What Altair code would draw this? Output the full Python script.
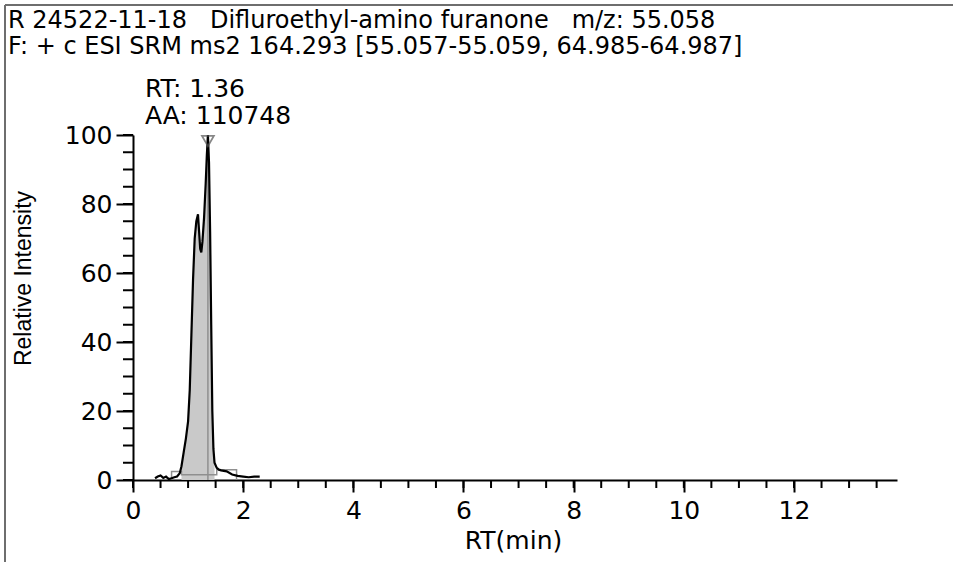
import altair as alt
import pandas as pd

# ---------------- data ----------------
NB = "\u00a0"
header_text = ("R 24522-11-18" + NB * 3 + "Difluroethyl-amino furanone" + NB * 3 + "m/z: 55.058"
               + "\n" + "F: + c ESI SRM ms2 164.293 [55.057-55.059, 64.985-64.987]")
peak_label = "RT: 1.36\nAA: 110748"
apex_rt = [1.36]
apex_int = [100]
apex_base = [0]

rt = [0.40, 0.45, 0.50, 0.55, 0.60, 0.65, 0.70, 0.75, 0.80, 0.85, 0.88, 0.92,
      0.96, 1.00, 1.03, 1.06, 1.09, 1.12, 1.15, 1.18, 1.20, 1.22, 1.24, 1.26,
      1.29, 1.32, 1.34, 1.36, 1.38, 1.40, 1.42, 1.44, 1.46, 1.48, 1.52, 1.56,
      1.60, 1.70, 1.80, 1.90, 2.00, 2.10, 2.20, 2.30]
intensity = [0.5, 1.0, 1.3, 0.6, 1.0, 0.3, 0.5, 0.8, 1.0, 2.0, 4.0, 8.0,
             12.0, 17.0, 26.0, 42.0, 58.0, 70.0, 75.0, 77.0, 72.0, 67.0, 66.0, 69.0,
             76.0, 86.0, 94.0, 100.0, 92.0, 72.0, 45.0, 20.0, 9.0, 5.0, 3.5, 3.0,
             2.8, 2.5, 1.6, 1.2, 1.0, 0.8, 1.0, 1.0]

base_rt = [0.70, 0.70, 0.88, 1.52, 1.88]
base_int = [0.0, 2.5, 1.5, 3.0, 0.0]

x_major = [0, 2, 4, 6, 8, 10, 12]
x_minor = [i * 0.5 for i in range(28)]
y_major = [0, 20, 40, 60, 80, 100]
y_minor = list(range(0, 101, 5))

trace = pd.DataFrame({"rt": rt, "inten": intensity})
baseline = pd.DataFrame({"rt": base_rt, "inten": base_int})
apex = pd.DataFrame({"rt": apex_rt, "inten": apex_int, "base": apex_base,
                     "label": [peak_label]})
header = pd.DataFrame({"label": [header_text]})
xminor_df = pd.DataFrame({"rt": x_minor})
yminor_df = pd.DataFrame({"inten": y_minor})

W, H = 764, 345
LEFT, TOP = 133, 135

xs = alt.Scale(domain=[0, 13.87], nice=False, zero=False)
ys = alt.Scale(domain=[0, 100], nice=False)

FONT = "DejaVu Sans"
FS = 25

x_axis = alt.Axis(values=x_major, tickSize=12, tickWidth=2, tickColor="black",
                  domainColor="black", domainWidth=2, labelFont=FONT,
                  labelFontSize=FS, labelColor="black", labelPadding=6,
                  grid=False, title="RT(min)", titleFont=FONT,
                  titleFontSize=FS, titleFontWeight="normal", titleColor="black",
                  titleX=380, titleY=60, titleBaseline="middle",
                  labelFlush=False, labelOverlap=False)
y_axis = alt.Axis(values=y_major, tickSize=17, tickWidth=2, tickColor="black",
                  domainColor="black", domainWidth=2, labelFont=FONT,
                  labelFontSize=FS, labelColor="black", labelPadding=4,
                  grid=False, title="Relative Intensity", titleFont="Liberation Sans",
                  titleFontSize=23, titleFontWeight="normal", titleColor="black",
                  titleX=-110, titleY=143, titleAngle=270, titleBaseline="middle",
                  titleAlign="center",
                  labelFlush=False, labelOverlap=False)


def X(field):
    return alt.X(field, scale=xs, axis=x_axis)


def Y(field):
    return alt.Y(field, scale=ys, axis=y_axis)


fill = alt.Chart(trace).transform_filter(
    (alt.datum.rt >= 0.88) & (alt.datum.rt <= 1.48)
).mark_area(color="#c9c9c9", opacity=1).encode(x=X("rt:Q"), y=Y("inten:Q"))

base_line = alt.Chart(baseline).mark_line(
    color="#8f8f8f", strokeWidth=1.5, interpolate="step-after"
).encode(x=X("rt:Q"), y=Y("inten:Q"))

apex_rule = alt.Chart(apex).mark_rule(color="#8f8f8f", strokeWidth=1.5).encode(
    x=X("rt:Q"), y=Y("base:Q"), y2=alt.Y2("inten:Q"),
)

line = alt.Chart(trace).mark_line(color="black", strokeWidth=2.2).encode(
    x=X("rt:Q"), y=Y("inten:Q"))

marker = alt.Chart(apex).mark_point(
    shape="triangle-down", filled=False, color="#555555", size=140, strokeWidth=1.8
).encode(x=X("rt:Q"), y=Y("inten:Q"), yOffset=alt.value(6))

peak_text = alt.Chart(apex).mark_text(
    align="left", baseline="middle", dx=-63, dy=-46, lineBreak="\n", lineHeight=27,
    font=FONT, fontSize=FS, color="black"
).encode(x=X("rt:Q"), y=Y("inten:Q"), text="label:N")

x_minor_ticks = alt.Chart(xminor_df).mark_rule(color="black", strokeWidth=2).encode(
    x=X("rt:Q"), y=alt.value(H), y2=alt.value(H + 8),
)
y_minor_ticks = alt.Chart(yminor_df).mark_rule(color="black", strokeWidth=2).encode(
    y=Y("inten:Q"), x=alt.value(-10), x2=alt.value(0),
)

header_mark = alt.Chart(header).mark_text(
    align="left", baseline="middle", lineBreak="\n", lineHeight=26,
    font=FONT, fontSize=24, color="black"
).encode(x=alt.value(8 - LEFT), y=alt.value(21 - TOP), text="label:N")

border_top = alt.Chart(header).mark_rule(color="#6e6e6e", strokeWidth=2).encode(
    x=alt.value(5 - LEFT), x2=alt.value(953 - LEFT), y=alt.value(5 - TOP)
)
border_left = alt.Chart(header).mark_rule(color="#6e6e6e", strokeWidth=2).encode(
    x=alt.value(5 - LEFT), y=alt.value(5 - TOP), y2=alt.value(562 - TOP)
)

chart = alt.layer(
    fill, base_line, apex_rule, line, marker, peak_text,
    x_minor_ticks, y_minor_ticks, header_mark, border_top, border_left
).properties(
    width=W, height=H,
    padding={"left": LEFT, "top": TOP, "right": 953 - LEFT - W, "bottom": 562 - TOP - H},
    autosize=alt.AutoSizeParams(type="none"),
    background="white",
).configure_view(stroke=None)

chart.save("out.html", embed_options={"renderer": "svg", "actions": False})
